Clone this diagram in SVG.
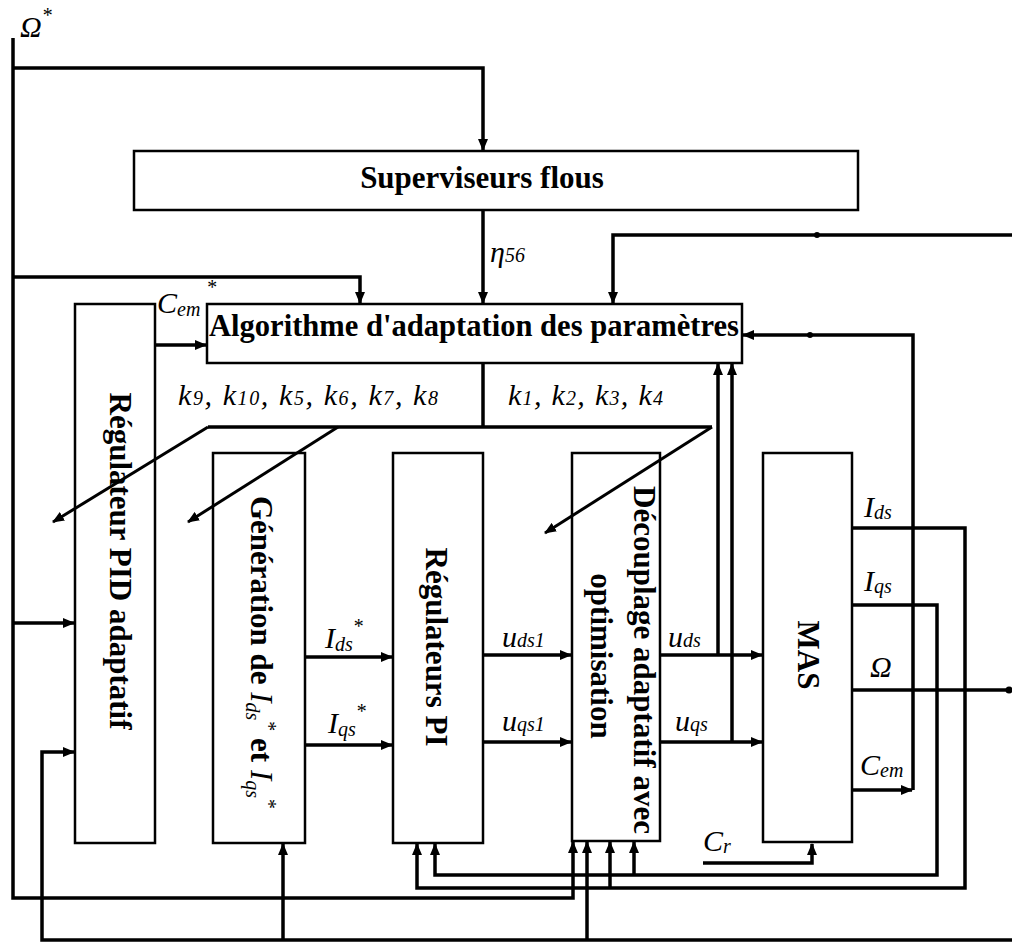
<svg xmlns="http://www.w3.org/2000/svg" width="1012" height="944" viewBox="0 0 1012 944">
<style>
.box{fill:#fff;stroke:#000;stroke-width:2.5}
.c{fill:none;stroke:#000;stroke-width:3.5}
.d{fill:none;stroke:#000;stroke-width:3}
.t{font-family:"Liberation Serif","Times New Roman",serif;font-weight:bold;font-size:31px;fill:#000}
.l{font-family:"Liberation Serif","Times New Roman",serif;font-style:italic;font-size:30px;fill:#000}
.s{font-size:20px}
.n{font-style:italic;font-weight:normal}
</style>
<defs>
<marker id="a" markerUnits="userSpaceOnUse" markerWidth="12" markerHeight="10" refX="11" refY="5" orient="auto">
<path d="M0,0 L12,5 L0,10 z" fill="#000"/>
</marker>
</defs>
<rect width="1012" height="944" fill="#fff"/>

<g id="superviseurs">
<rect class="box" x="134" y="151" width="724" height="59"/>
<text class="t" x="482" y="188" text-anchor="middle">Superviseurs flous</text>
</g>

<g id="algorithme">
<rect class="box" x="207" y="304" width="535" height="59"/>
<text class="t" x="474" y="336" text-anchor="middle" textLength="530" lengthAdjust="spacingAndGlyphs">Algorithme d'adaptation des paramètres</text>
</g>

<g id="pid">
<rect class="box" x="75" y="304" width="80" height="539"/>
<text class="t" transform="translate(110,561) rotate(90)" text-anchor="middle">Régulateur PID adaptatif</text>
</g>

<g id="generation">
<rect class="box" x="213" y="453" width="92" height="390"/>
<text class="t" transform="translate(251,652) rotate(90)" text-anchor="middle">Génération de <tspan class="n">I</tspan><tspan class="n s" dy="5">ds</tspan><tspan class="n s" dy="-16">*</tspan><tspan dy="11"> et </tspan><tspan class="n">I</tspan><tspan class="n s" dy="5">qs</tspan><tspan class="n s" dy="-16">*</tspan></text>
</g>

<g id="pi">
<rect class="box" x="393" y="453" width="90" height="390"/>
<text class="t" transform="translate(426,647) rotate(90)" text-anchor="middle">Régulateurs PI</text>
</g>

<g id="decouplage">
<rect class="box" x="572" y="453" width="88" height="388"/>
<text class="t" transform="translate(634,660) rotate(90)" text-anchor="middle">Découplage adaptatif avec</text>
<text class="t" transform="translate(591,656) rotate(90)" text-anchor="middle">optimisation</text>
</g>

<g id="mas">
<rect class="box" x="763" y="453" width="89" height="389"/>
<text class="t" transform="translate(798,655) rotate(90)" text-anchor="middle">MAS</text>
</g>

<g id="connectors">
<path class="c" d="M13,38 V898 H573 V842" marker-end="url(#a)"/>
<path class="c" d="M13,68 H483 V150" marker-end="url(#a)"/>
<path class="c" d="M13,277 H360 V303" marker-end="url(#a)"/>
<path class="c" d="M13,623 H74" marker-end="url(#a)"/>
<path class="c" d="M483,210 V303" marker-end="url(#a)"/>
<path class="c" d="M1012,235 H613 V303" marker-end="url(#a)"/>
<path class="c" d="M155,345 H206" marker-end="url(#a)"/>
<path class="c" d="M483,363 V427"/>
<path class="c" d="M208,427 H712"/>
<path class="d" d="M208,427 L53,522" marker-end="url(#a)"/>
<path class="d" d="M338,427 L188,522" marker-end="url(#a)"/>
<path class="d" d="M712,427 L545,533" marker-end="url(#a)"/>
<path class="c" d="M305,657 H392" marker-end="url(#a)"/>
<path class="c" d="M305,745 H392" marker-end="url(#a)"/>
<path class="c" d="M483,655 H571" marker-end="url(#a)"/>
<path class="c" d="M483,742 H571" marker-end="url(#a)"/>
<path class="c" d="M660,655 H762" marker-end="url(#a)"/>
<path class="c" d="M660,742 H762" marker-end="url(#a)"/>
<path class="c" d="M718,655 V364" marker-end="url(#a)"/>
<path class="c" d="M732,742 V364" marker-end="url(#a)"/>
<path class="c" d="M852,528 H965 V888 H417 V844" marker-end="url(#a)"/>
<path class="c" d="M610,888 V842" marker-end="url(#a)"/>
<path class="c" d="M852,605 H937 V875 H435 V844" marker-end="url(#a)"/>
<path class="c" d="M634,875 V842" marker-end="url(#a)"/>
<path class="c" d="M852,690 H1009"/>
<circle cx="1009" cy="690" r="3.5"/>
<path class="c" d="M852,790 H912" marker-end="url(#a)"/>
<path class="c" d="M913,790 V335 H743" marker-end="url(#a)"/>
<path class="c" d="M1012,940 H42 V752 H74" marker-end="url(#a)"/>
<path class="c" d="M283,940 V844" marker-end="url(#a)"/>
<path class="c" d="M587,940 V842" marker-end="url(#a)"/>
<path class="c" d="M703,863 H812 V844" marker-end="url(#a)"/>
<circle cx="817" cy="235" r="3"/>
<circle cx="810" cy="335" r="3"/>
</g>

<g id="labels">
<text class="l" x="20" y="37">Ω<tspan class="s" dy="-15">*</tspan></text>
<text class="l" x="490" y="262">η<tspan class="s" dy="0">56</tspan></text>
<text class="l" x="157" y="313">C<tspan class="s" dy="3">em</tspan><tspan class="s" dx="6" dy="-22">*</tspan></text>
<text class="l" x="178" y="405" textLength="260" lengthAdjust="spacing">k<tspan class="s">9</tspan>, k<tspan class="s">10</tspan>, k<tspan class="s">5</tspan>, k<tspan class="s">6</tspan>, k<tspan class="s">7</tspan>, k<tspan class="s">8</tspan></text>
<text class="l" x="508" y="405" textLength="155" lengthAdjust="spacing">k<tspan class="s">1</tspan>, k<tspan class="s">2</tspan>, k<tspan class="s">3</tspan>, k<tspan class="s">4</tspan></text>
<text class="l" x="325" y="648">I<tspan class="s" dy="3">ds</tspan><tspan class="s" dy="-18">*</tspan></text>
<text class="l" x="328" y="733">I<tspan class="s" dy="3">qs</tspan><tspan class="s" dy="-18">*</tspan></text>
<text class="l" x="502" y="647">u<tspan class="s">ds1</tspan></text>
<text class="l" x="502" y="731">u<tspan class="s">qs1</tspan></text>
<text class="l" x="668" y="647">u<tspan class="s">ds</tspan></text>
<text class="l" x="675" y="731">u<tspan class="s">qs</tspan></text>
<text class="l" x="864" y="517">I<tspan class="s" dy="2">ds</tspan></text>
<text class="l" x="864" y="591">I<tspan class="s" dy="2">qs</tspan></text>
<text class="l" x="870" y="677">Ω</text>
<text class="l" x="860" y="775">C<tspan class="s" dy="2">em</tspan></text>
<text class="l" x="703" y="851">C<tspan class="s" dy="2">r</tspan></text>
</g>
</svg>
